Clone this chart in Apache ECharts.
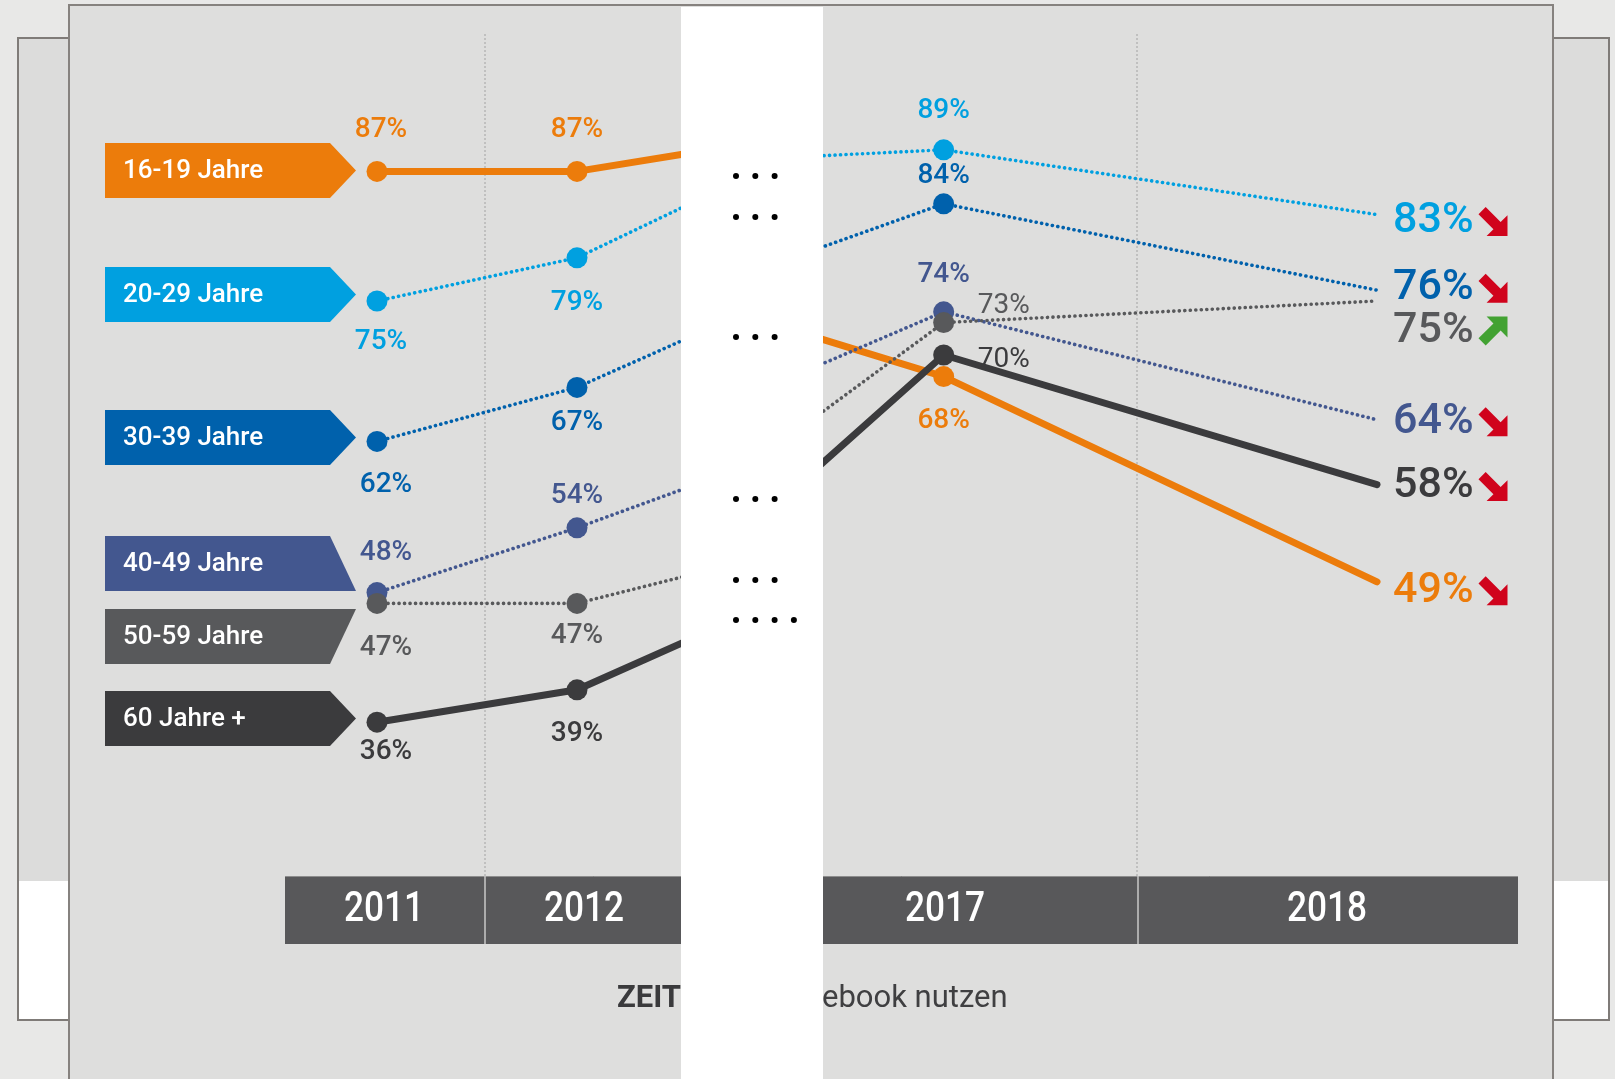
<!DOCTYPE html>
<html><head><meta charset="utf-8">
<script src="https://cdn.jsdelivr.net/npm/echarts@6/dist/echarts.min.js"></script>
<style>html,body{margin:0;padding:0;background:#e8e8e7;}#c{width:1615px;height:1079px;}</style>
</head><body><div id="c"></div>
<script>
// ---- data ----
// category slots along the timeline; 2013 and 2016 lie under the white strip (values estimated from visible slopes)
const xSlots = ['2011','','','','','','2012','','','','2013','','','2016','','','','2017','','','','','','','','','','','','','2018'];
const years = ['2011','2012','2013','2016','2017','2018'];
const shownYears = ['2011','2012','2017','2018'];
const groups = ['16-19 Jahre','20-29 Jahre','30-39 Jahre','40-49 Jahre','50-59 Jahre','60 Jahre +'];
const v1619 = [87, 87, 89.0, 71.8, 68, 49];
const v2029 = [75, 79, 84.9, 88.4, 89, 83];
const v3039 = [62, 67, 72.5, 79.6, 84, 76];
const v4049 = [48, 54, 58.5, 68.7, 74, 64];
const v5059 = [47, 47, 50.1, 63.9, 73, 75];
const v60 = [36, 39, 44.5, 59.0, 70, 58];
const trend = ['down','down','down','down','up','down'];
const footLeft = 'ZEIT';
const footRight = 'ebook nutzen';

// ---- styles ----
const values = [v1619, v2029, v3039, v4049, v5059, v60];
const colors = ['#ec7c0b','#00a0e0','#0061ac','#43578f','#58595b','#3b3b3d'];
const solid = [true,false,false,false,false,true];
// label offsets [dx,dy] for 2011, 2012, 2017, 2018
const labelOffsets = [
  [[4,-41],[0,-41],[0,44],[16,9]],
  [[4,41],[0,45],[0,-39],[16,7]],
  [[9,44],[0,36],[0,-28],[16,-2]],
  [[9,-40],[0,-32],[0,-37],[16,2]],
  [[9,45],[0,33],[60,-17],[16,30]],
  [[9,30],[0,44],[60,5],[16,2]]
];
const arrowDown = 'path://M3,27 L27,3 L77,53 L100,30 L100,100 L30,100 L53,77 Z';
const arrowUp = 'path://M3,73 L27,97 L77,47 L100,70 L100,0 L30,0 L53,23 Z';
const FONT = 'Roboto, "Noto Sans", sans-serif';

function buildData(gi) {
  const vals = values[gi];
  return xSlots.map(cat => {
    const k = years.indexOf(cat);
    if (!cat || k < 0) return '-';
    const v = vals[k];
    const vis = shownYears.indexOf(cat);
    if (vis < 0) return {value: v, symbolSize: 0.01, label: {show: false}};
    const off = labelOffsets[gi][vis];
    const isEnd = cat === '2018';
    if (isEnd) return {value: v, symbolSize: 0.01,
      label: {show: true, position: 'inside', offset: off, align: 'left', verticalAlign: 'middle', fontSize: 43}};
    const lighter = (gi >= 4 && cat === '2017');
    return {value: v, symbolSize: 21,
      label: {show: true, position: 'inside', offset: off, align: 'center', verticalAlign: 'middle', fontWeight: lighter ? 400 : 500}};
  });
}

const series = groups.map((name, gi) => ({
  name, type: 'line', data: buildData(gi), connectNulls: true, showAllSymbol: true,
  symbol: 'circle', silent: true, animation: false, z: 3 + gi,
  lineStyle: {color: colors[gi], width: solid[gi] ? 7 : 3.6, type: solid[gi] ? 'solid' : [0.1, 5.4], cap: 'round', join: 'round'},
  itemStyle: {color: colors[gi]},
  label: {show: true, color: colors[gi], fontFamily: FONT, fontSize: 28, fontWeight: 500, formatter: p => p.value + '%'},
  emphasis: {disabled: true},
  markPoint: {
    silent: true, animation: false,
    symbol: trend[gi] === 'up' ? arrowUp : arrowDown,
    symbolSize: [29, 29], symbolKeepAspect: false,
    symbolOffset: [116, labelOffsets[gi][3][1]],
    itemStyle: {color: trend[gi] === 'up' ? '#42a232' : '#d0031c'},
    label: {show: false},
    data: [{coord: [xSlots.indexOf('2018'), values[gi][years.indexOf('2018')]]}]
  }
}));

// ---- decorative graphic ----
const g = [];
// back pages
g.push({type:'rect', z:-10, shape:{x:18, y:38, width:51, height:982}, style:{fill:'#dcdcdb', stroke:'#7f7b78', lineWidth:2}});
g.push({type:'rect', z:-9, shape:{x:19, y:881, width:49, height:138}, style:{fill:'#ffffff'}});
g.push({type:'rect', z:-10, shape:{x:1553, y:38, width:56, height:982}, style:{fill:'#dcdcdb', stroke:'#7f7b78', lineWidth:2}});
g.push({type:'rect', z:-9, shape:{x:1554, y:881, width:54, height:138}, style:{fill:'#ffffff'}});
// main panel
g.push({type:'rect', z:-8, shape:{x:69, y:5, width:1484, height:1100}, style:{fill:'#dededd', stroke:'#86827f', lineWidth:2}});
// grid separators
[485, 1137].forEach(x => g.push({type:'line', z:-7, shape:{x1:x, y1:34, x2:x, y2:877}, style:{stroke:'#a2a2a2', lineWidth:1, lineDash:[2,2]}}));
// banners
const bannerY = [143, 267, 410, 536, 609, 691];
const bh = 55;
groups.forEach((name, gi) => {
  const y = bannerY[gi];
  let pts;
  if (gi === 3) pts = [[105,y],[330,y],[356,y+bh],[105,y+bh]];
  else if (gi === 4) pts = [[105,y],[356,y],[330,y+bh],[105,y+bh]];
  else pts = [[105,y],[330,y],[356,y+bh/2],[330,y+bh],[105,y+bh]];
  g.push({type:'polygon', z:1, shape:{points: pts}, style:{fill: colors[gi]}});
  g.push({type:'text', z:2, x:123, y:y+bh/2+1, style:{text: name, fill:'#ffffff', font:'500 26px ' + FONT, align:'left', verticalAlign:'middle', textAlign:'left', textVerticalAlign:'middle'}});
});
// year bar
g.push({type:'rect', z:5, shape:{x:285, y:876, width:1233, height:68}, style:{fill:'#58585a'}});
g.push({type:'line', z:6, shape:{x1:285, y1:876.5, x2:1518, y2:876.5}, style:{stroke:'#8d8d8d', lineWidth:1}});
[485, 1138].forEach(x => g.push({type:'line', z:6, shape:{x1:x, y1:876, x2:x, y2:944}, style:{stroke:'#c8c8c8', lineWidth:1.5}}));
const yearLabelX = [384, 584, 945, 1327];
shownYears.forEach((yr, i) => g.push({type:'text', z:7, x: yearLabelX[i], y: 910, scaleX: 0.84,
  style:{text: yr, fill:'#ffffff', font:'500 42px ' + FONT, align:'center', verticalAlign:'middle', textAlign:'center', textVerticalAlign:'middle'}}));
// footer text
g.push({type:'text', z:5, x:681, y:999, style:{text: footLeft, fill:'#3a3a3c', font:'bold 31px ' + FONT, align:'right', verticalAlign:'middle', textAlign:'right', textVerticalAlign:'middle'}});
g.push({type:'text', z:5, x:822, y:999, style:{text: footRight, fill:'#3f3f41', font:'400 31px ' + FONT, align:'left', verticalAlign:'middle', textAlign:'left', textVerticalAlign:'middle'}});
// white strip
g.push({type:'rect', z:50, shape:{x:681, y:7, width:142, height:1080}, style:{fill:'#ffffff'}});
// ellipsis dots
const dotRows = [176, 217, 337, 499, 580, 620];
const dotCounts = [3, 3, 3, 3, 3, 4];
dotRows.forEach((cy, r) => {
  for (let i = 0; i < dotCounts[r]; i++) {
    g.push({type:'circle', z:51, shape:{cx: 736 + i * 19.3, cy, r: 3}, style:{fill:'#000000'}});
  }
});

const option = {
  backgroundColor: '#e8e8e7',
  animation: false,
  grid: {left: 377, right: 238, top: 31, bottom: 292},
  xAxis: {type: 'category', data: xSlots, boundaryGap: false, show: false},
  yAxis: {type: 'value', min: 30, max: 100, show: false},
  graphic: {elements: g},
  series
};
const chart = echarts.init(document.getElementById('c'), null, {renderer: 'canvas'});
chart.setOption(option);
</script>
</body></html>
